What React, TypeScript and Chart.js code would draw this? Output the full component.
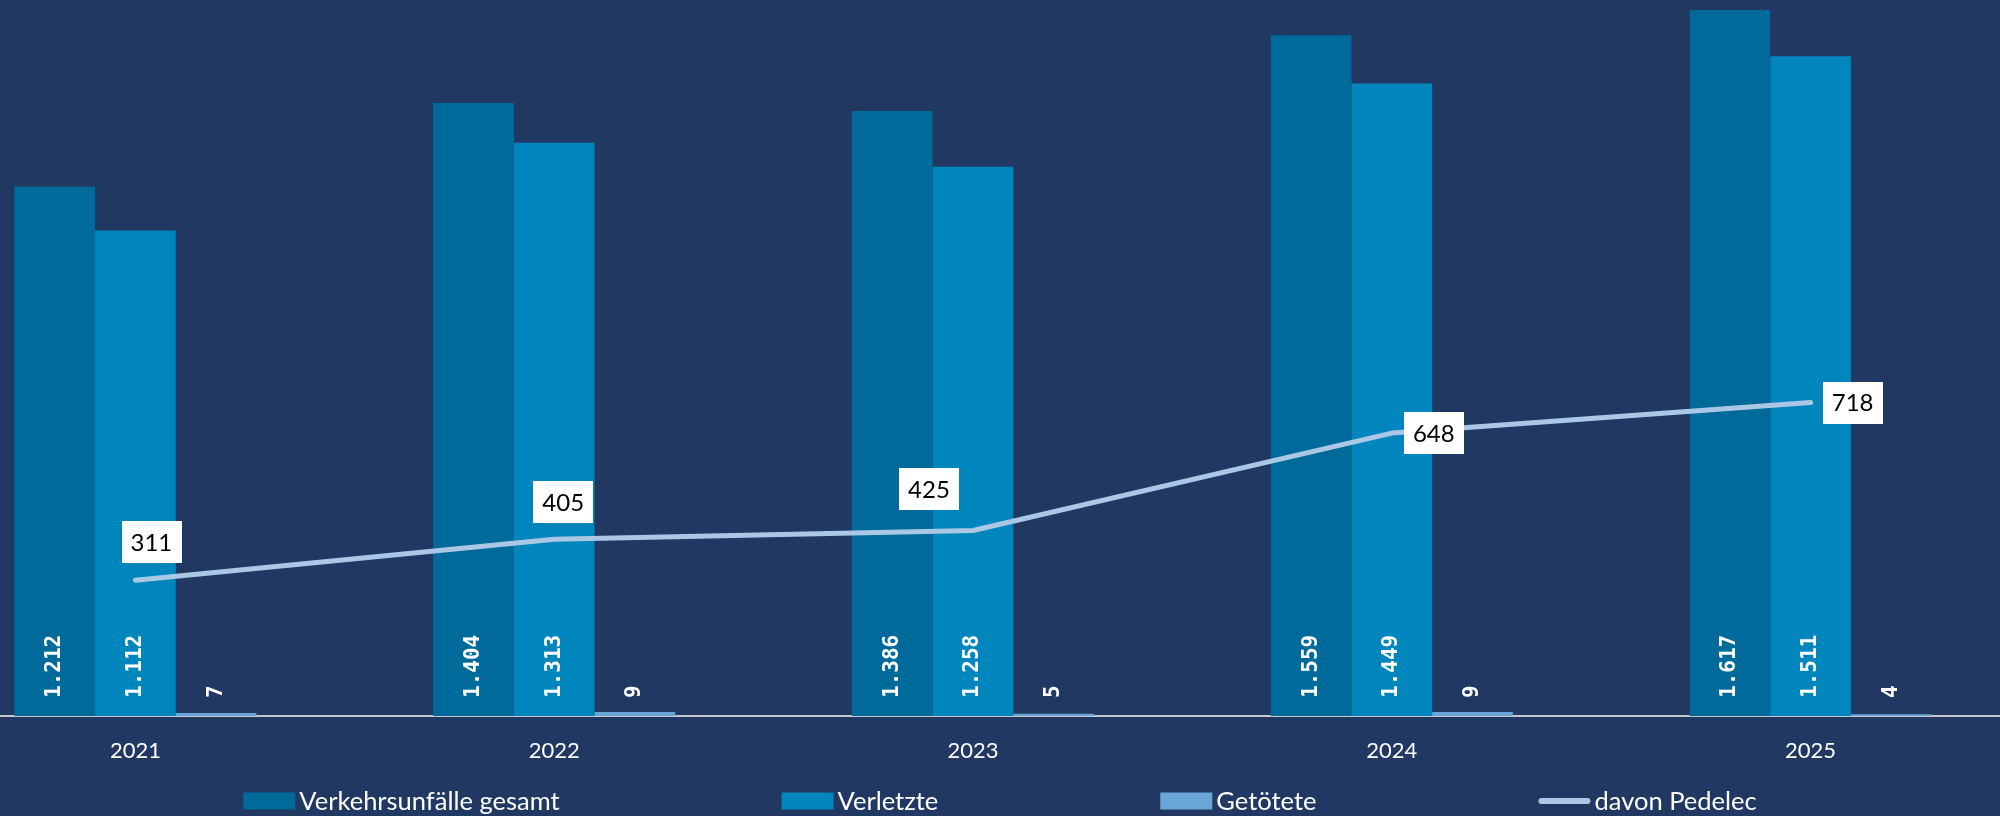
import React, { useEffect, useRef } from "react";
import { Chart, registerables } from "chart.js";

Chart.register(...registerables);

// ---- data ----
const years = ["2021", "2022", "2023", "2024", "2025"];
const unfaelleGesamt = [1212, 1404, 1386, 1559, 1617];
const verletzte = [1112, 1313, 1258, 1449, 1511];
const getoetete = [7, 9, 5, 9, 4];
const pedelec = [311, 405, 425, 648, 718];
const seriesNames = ["Verkehrsunfälle gesamt", "Verletzte", "Getötete", "davon Pedelec"];

// ---- layout / style ----
const PAGE_W = 2000;
const PAGE_H = 816;
const CANVAS_LEFT = -74;
const CANVAS_W = 2094;
const X_AXIS_H = 100;
const Y_MAX = 1640;

const COLORS = {
  bg: "#213863",
  gesamt: "#006b9b",
  verletzte: "#0086bc",
  getoetete: "#6aa5d8",
  pedelec: "#aac8e6",
  axis: "#c4c8cc",
};

// label box offsets (dx, dy) relative to each line point
const pedelecLabelOffsets = [
  [16, -38],
  [9, -37],
  [-44, -41],
  [42, 0],
  [42, 0],
];

const fmt = (v: number) => v.toLocaleString("de-DE");

const BAR_LABEL_FONT = "bold 21px \"DejaVu Sans Mono\", \"Liberation Mono\", monospace";

const barValuePlugin = {
  id: "barValues",
  afterDatasetsDraw(chart: any) {
    const ctx = chart.ctx;
    chart.data.datasets.forEach((ds: any, di: number) => {
      if (ds.type === "line") return;
      const meta = chart.getDatasetMeta(di);
      meta.data.forEach((el: any, i: number) => {
        ctx.save();
        ctx.font = BAR_LABEL_FONT;
        ctx.fillStyle = "#ffffff";
        ctx.textAlign = "left";
        ctx.textBaseline = "middle";
        ctx.translate(el.x, el.base - 18);
        ctx.rotate(-Math.PI / 2);
        ctx.fillText(fmt(ds.data[i]), 0, 0);
        ctx.restore();
      });
    });
  },
};

const lineLabelPlugin = {
  id: "lineLabels",
  afterDraw(chart: any) {
    const ctx = chart.ctx;
    ctx.save();
    ctx.font = "24px Lato";
    ctx.textAlign = "center";
    ctx.textBaseline = "middle";
    chart.data.datasets.forEach((ds: any, di: number) => {
      if (ds.type !== "line") return;
      const meta = chart.getDatasetMeta(di);
      meta.data.forEach((el: any, i: number) => {
        const [dx, dy] = pedelecLabelOffsets[i] || [0, -40];
        const cx = el.x + dx;
        const cy = el.y + dy;
        const txt = fmt(ds.data[i]);
        const w = ctx.measureText(txt).width + 18;
        const h = 42;
        ctx.fillStyle = "#ffffff";
        ctx.fillRect(Math.round(cx - w / 2), Math.round(cy - h / 2), Math.round(w), h);
        ctx.fillStyle = "#000000";
        ctx.fillText(txt, cx, cy + 1);
      });
    });
    ctx.restore();
  },
};

const legendPlugin = {
  id: "customLegend",
  afterDraw(chart: any) {
    const ctx = chart.ctx;
    ctx.save();
    ctx.font = "25.5px Lato";
    ctx.textBaseline = "middle";
    ctx.textAlign = "left";
    const symW = 52;
    const symGap = 4;
    const itemGap = 222;
    const items = chart.data.datasets.map((ds: any) => ({
      text: ds.label,
      type: ds.type,
      color: ds.type === "line" ? ds.borderColor : ds.backgroundColor,
      tw: ctx.measureText(ds.label).width,
    }));
    const total =
      items.reduce((s: number, it: any) => s + symW + symGap + it.tw, 0) + itemGap * (items.length - 1);
    const centerX = PAGE_W / 2 - CANVAS_LEFT;
    const y = 801;
    let x = centerX - total / 2;
    items.forEach((it: any) => {
      if (it.type === "line") {
        ctx.strokeStyle = it.color;
        ctx.lineWidth = 6;
        ctx.lineCap = "round";
        ctx.beginPath();
        ctx.moveTo(x + 3, y);
        ctx.lineTo(x + symW - 3, y);
        ctx.stroke();
      } else {
        ctx.fillStyle = it.color;
        ctx.fillRect(x, y - 8.5, symW, 17);
      }
      ctx.fillStyle = "#ffffff";
      ctx.fillText(it.text, x + symW + symGap, y + 1);
      x += symW + symGap + it.tw + itemGap;
    });
    ctx.restore();
  },
};

export default function App() {
  const canvasRef = useRef<HTMLCanvasElement | null>(null);

  useEffect(() => {
    if (!canvasRef.current) return;
    const chart = new Chart(canvasRef.current, {
      type: "bar",
      data: {
        labels: years,
        datasets: [
          { type: "bar", label: seriesNames[0], data: unfaelleGesamt, backgroundColor: COLORS.gesamt, borderWidth: 0, order: 1 },
          { type: "bar", label: seriesNames[1], data: verletzte, backgroundColor: COLORS.verletzte, borderWidth: 0, order: 1 },
          { type: "bar", label: seriesNames[2], data: getoetete, backgroundColor: COLORS.getoetete, borderWidth: 0, order: 1 },
          {
            type: "line",
            label: seriesNames[3],
            data: pedelec,
            borderColor: COLORS.pedelec,
            backgroundColor: COLORS.pedelec,
            borderWidth: 5,
            borderCapStyle: "round",
            borderJoinStyle: "round",
            pointRadius: 0,
            tension: 0,
            order: 0,
          } as any,
        ],
      },
      options: {
        responsive: false,
        animation: false,
        devicePixelRatio: 1,
        layout: { padding: 0 },
        datasets: { bar: { categoryPercentage: 0.578, barPercentage: 1.0 } },
        plugins: { legend: { display: false }, tooltip: { enabled: false } },
        scales: {
          x: {
            offset: true,
            grid: { display: false, drawTicks: false },
            border: { display: true, color: COLORS.axis, width: 2 },
            ticks: { color: "#ffffff", font: { family: "Lato", size: 22 }, padding: 22, maxRotation: 0 },
            afterFit: (scale: any) => {
              scale.height = X_AXIS_H;
            },
          },
          y: { display: false, min: 0, max: Y_MAX },
        },
      },
      plugins: [barValuePlugin, lineLabelPlugin, legendPlugin],
    });
    return () => chart.destroy();
  }, []);

  return (
    <div style={{ position: "absolute", left: 0, top: 0, width: PAGE_W, height: PAGE_H, overflow: "hidden", background: COLORS.bg }}>
      <canvas
        ref={canvasRef}
        width={CANVAS_W}
        height={PAGE_H}
        style={{ position: "absolute", left: CANVAS_LEFT, top: 0, width: CANVAS_W, height: PAGE_H }}
      />
    </div>
  );
}
